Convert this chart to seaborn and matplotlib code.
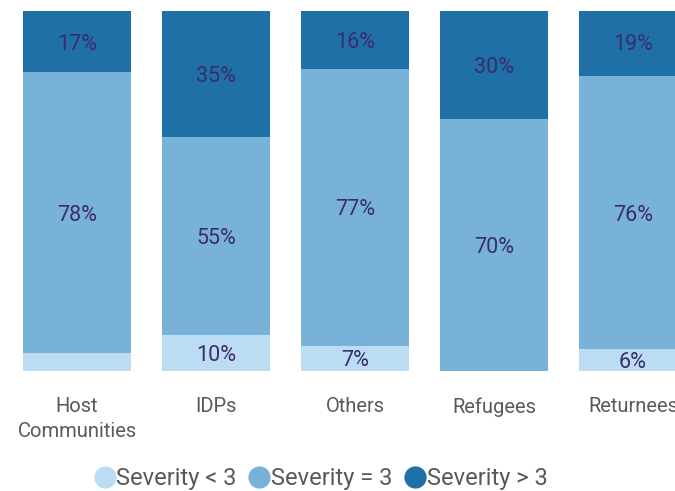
import matplotlib
matplotlib.use("Agg")
import matplotlib.pyplot as plt
from matplotlib.lines import Line2D
import seaborn as sns
import pandas as pd
import numpy as np

categories = ["Host\nCommunities", "IDPs", "Others", "Refugees", "Returnees"]
sev_lt3 = [5, 10, 7, 0, 6]
sev_eq3 = [78, 55, 77, 70, 76]
sev_gt3 = [17, 35, 16, 30, 19]
series_names = ["Severity < 3", "Severity = 3", "Severity > 3"]
colors = ["#BBDCF2", "#78B2D9", "#1F70A6"]
label_color = "#3B2C6E"
tick_color = "#595959"

sns.set_theme(style="white")
plt.rcParams["font.family"] = ["Roboto", "DejaVu Sans"]

fig = plt.figure(figsize=(6.75, 4.91), dpi=100)
ax = fig.add_axes([7.5 / 675, 120 / 491, 695 / 675, 360 / 491])

lt = np.array(sev_lt3, dtype=float)
eq = np.array(sev_eq3, dtype=float)
gt = np.array(sev_gt3, dtype=float)
layers = [lt + eq + gt, lt + eq, lt]
layer_colors = [colors[2], colors[1], colors[0]]
for tot, col in zip(layers, layer_colors):
    df = pd.DataFrame({"cat": categories, "val": tot})
    sns.barplot(data=df, x="cat", y="val", color=col, width=0.777,
                saturation=1, ax=ax, linewidth=0, errorbar=None)

# labels
for i in range(len(categories)):
    segs = [(0, lt[i]), (lt[i], eq[i]), (lt[i] + eq[i], gt[i])]
    for base, v in segs:
        if v >= 6:
            ax.text(i, base + v / 2, f"{int(v)}%", ha="center", va="center_baseline",
                    fontsize=15.5, color=label_color)

ax.set_ylim(0, 100)
ax.set_xlim(-0.5, 4.5)
ax.set_xlabel("")
ax.set_ylabel("")
ax.set_yticks([])
ax.tick_params(axis="x", length=0, pad=19, labelsize=14.5, labelcolor=tick_color)
for lab in ax.get_xticklabels():
    lab.set_linespacing(1.35)
for s in ax.spines.values():
    s.set_visible(False)

handles = [Line2D([0], [0], marker="o", linestyle="", markersize=16,
                  markerfacecolor=c, markeredgewidth=0) for c in colors]
fig.legend(handles, series_names, loc="center", bbox_to_anchor=(320 / 675, 1 - 479 / 491),
           ncol=3, frameon=False, fontsize=17, handletextpad=0.0,
           columnspacing=0.45, handlelength=1.0, labelcolor=tick_color)

fig.savefig("out.png", dpi=100)
